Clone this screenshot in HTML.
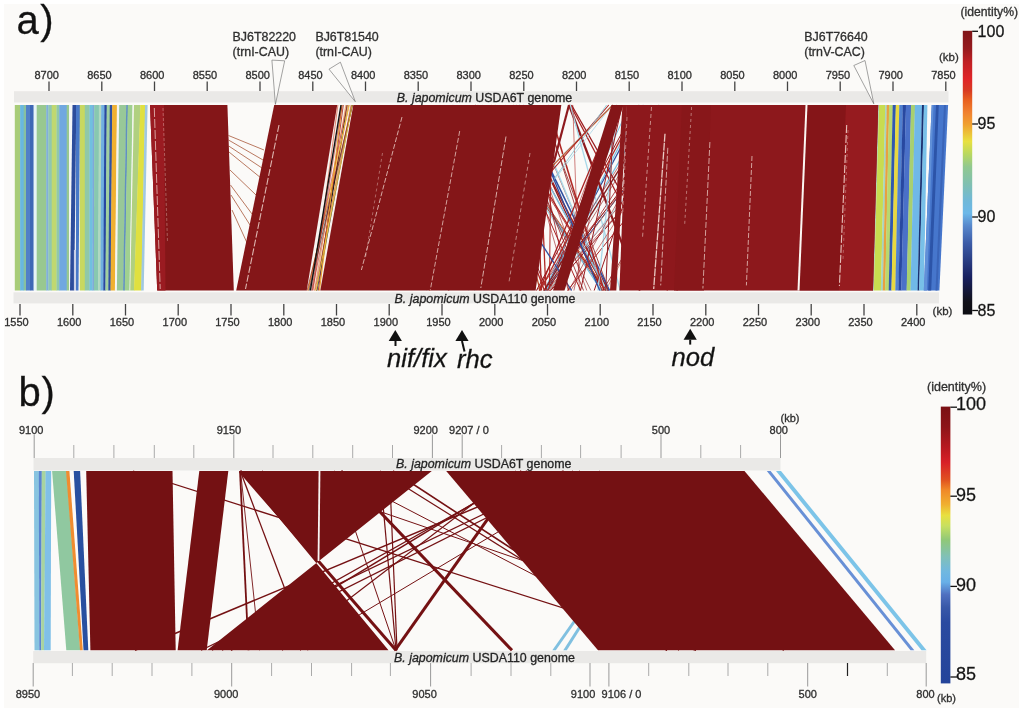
<!DOCTYPE html>
<html><head><meta charset="utf-8"><style>
html,body{margin:0;padding:0;background:#fff;}
svg{display:block;font-family:"Liberation Sans",Arial,sans-serif;}
text{stroke:#2a2a2a;stroke-width:0.3px;}
</style></head><body>
<svg width="1024" height="712" viewBox="0 0 1024 712">
<rect x="0" y="0" width="1024" height="712" fill="#fff"/>
<rect x="4" y="4" width="1015" height="704" fill="#fbfaf8"/>
<rect x="14" y="91.2" width="934.5" height="11.3" fill="#eae9e7"/>
<rect x="13.5" y="292.3" width="925.5" height="11.1" fill="#eae9e7"/>
<line x1="49.0" y1="81.5" x2="49.0" y2="91.0" stroke="#444" stroke-width="1.30"/>
<text x="46.7" y="79.0" font-size="11.0" text-anchor="middle" fill="#333">8700</text>
<line x1="101.8" y1="81.5" x2="101.8" y2="91.0" stroke="#444" stroke-width="1.30"/>
<text x="99.5" y="79.0" font-size="11.0" text-anchor="middle" fill="#333">8650</text>
<line x1="154.5" y1="81.5" x2="154.5" y2="91.0" stroke="#444" stroke-width="1.30"/>
<text x="152.2" y="79.0" font-size="11.0" text-anchor="middle" fill="#333">8600</text>
<line x1="207.2" y1="81.5" x2="207.2" y2="91.0" stroke="#444" stroke-width="1.30"/>
<text x="204.9" y="79.0" font-size="11.0" text-anchor="middle" fill="#333">8550</text>
<line x1="260.0" y1="81.5" x2="260.0" y2="91.0" stroke="#444" stroke-width="1.30"/>
<text x="257.7" y="79.0" font-size="11.0" text-anchor="middle" fill="#333">8500</text>
<line x1="312.8" y1="81.5" x2="312.8" y2="91.0" stroke="#444" stroke-width="1.30"/>
<text x="310.4" y="79.0" font-size="11.0" text-anchor="middle" fill="#333">8450</text>
<line x1="365.5" y1="81.5" x2="365.5" y2="91.0" stroke="#444" stroke-width="1.30"/>
<text x="363.2" y="79.0" font-size="11.0" text-anchor="middle" fill="#333">8400</text>
<line x1="418.2" y1="81.5" x2="418.2" y2="91.0" stroke="#444" stroke-width="1.30"/>
<text x="415.9" y="79.0" font-size="11.0" text-anchor="middle" fill="#333">8350</text>
<line x1="471.0" y1="81.5" x2="471.0" y2="91.0" stroke="#444" stroke-width="1.30"/>
<text x="468.7" y="79.0" font-size="11.0" text-anchor="middle" fill="#333">8300</text>
<line x1="523.8" y1="81.5" x2="523.8" y2="91.0" stroke="#444" stroke-width="1.30"/>
<text x="521.5" y="79.0" font-size="11.0" text-anchor="middle" fill="#333">8250</text>
<line x1="576.5" y1="81.5" x2="576.5" y2="91.0" stroke="#444" stroke-width="1.30"/>
<text x="574.2" y="79.0" font-size="11.0" text-anchor="middle" fill="#333">8200</text>
<line x1="629.2" y1="81.5" x2="629.2" y2="91.0" stroke="#444" stroke-width="1.30"/>
<text x="627.0" y="79.0" font-size="11.0" text-anchor="middle" fill="#333">8150</text>
<line x1="682.0" y1="81.5" x2="682.0" y2="91.0" stroke="#444" stroke-width="1.30"/>
<text x="679.7" y="79.0" font-size="11.0" text-anchor="middle" fill="#333">8100</text>
<line x1="734.8" y1="81.5" x2="734.8" y2="91.0" stroke="#444" stroke-width="1.30"/>
<text x="732.5" y="79.0" font-size="11.0" text-anchor="middle" fill="#333">8050</text>
<line x1="787.5" y1="81.5" x2="787.5" y2="91.0" stroke="#444" stroke-width="1.30"/>
<text x="785.2" y="79.0" font-size="11.0" text-anchor="middle" fill="#333">8000</text>
<line x1="840.2" y1="81.5" x2="840.2" y2="91.0" stroke="#444" stroke-width="1.30"/>
<text x="838.0" y="79.0" font-size="11.0" text-anchor="middle" fill="#333">7950</text>
<line x1="893.0" y1="81.5" x2="893.0" y2="91.0" stroke="#444" stroke-width="1.30"/>
<text x="890.7" y="79.0" font-size="11.0" text-anchor="middle" fill="#333">7900</text>
<line x1="945.8" y1="81.5" x2="945.8" y2="91.0" stroke="#444" stroke-width="1.30"/>
<text x="943.5" y="79.0" font-size="11.0" text-anchor="middle" fill="#333">7850</text>
<text x="939.0" y="61.3" font-size="11.5" text-anchor="start" fill="#333">(kb)</text>
<line x1="20.0" y1="304.0" x2="20.0" y2="315.5" stroke="#444" stroke-width="1.30"/>
<text x="16.5" y="325.8" font-size="11.0" text-anchor="middle" fill="#333">1550</text>
<line x1="72.8" y1="304.0" x2="72.8" y2="315.5" stroke="#444" stroke-width="1.30"/>
<text x="69.2" y="325.8" font-size="11.0" text-anchor="middle" fill="#333">1600</text>
<line x1="125.5" y1="304.0" x2="125.5" y2="315.5" stroke="#444" stroke-width="1.30"/>
<text x="122.0" y="325.8" font-size="11.0" text-anchor="middle" fill="#333">1650</text>
<line x1="178.2" y1="304.0" x2="178.2" y2="315.5" stroke="#444" stroke-width="1.30"/>
<text x="174.8" y="325.8" font-size="11.0" text-anchor="middle" fill="#333">1700</text>
<line x1="231.0" y1="304.0" x2="231.0" y2="315.5" stroke="#444" stroke-width="1.30"/>
<text x="227.5" y="325.8" font-size="11.0" text-anchor="middle" fill="#333">1750</text>
<line x1="283.8" y1="304.0" x2="283.8" y2="315.5" stroke="#444" stroke-width="1.30"/>
<text x="280.2" y="325.8" font-size="11.0" text-anchor="middle" fill="#333">1800</text>
<line x1="336.5" y1="304.0" x2="336.5" y2="315.5" stroke="#444" stroke-width="1.30"/>
<text x="333.0" y="325.8" font-size="11.0" text-anchor="middle" fill="#333">1850</text>
<line x1="389.2" y1="304.0" x2="389.2" y2="315.5" stroke="#444" stroke-width="1.30"/>
<text x="385.8" y="325.8" font-size="11.0" text-anchor="middle" fill="#333">1900</text>
<line x1="442.0" y1="304.0" x2="442.0" y2="315.5" stroke="#444" stroke-width="1.30"/>
<text x="438.5" y="325.8" font-size="11.0" text-anchor="middle" fill="#333">1950</text>
<line x1="494.8" y1="304.0" x2="494.8" y2="315.5" stroke="#444" stroke-width="1.30"/>
<text x="491.2" y="325.8" font-size="11.0" text-anchor="middle" fill="#333">2000</text>
<line x1="547.5" y1="304.0" x2="547.5" y2="315.5" stroke="#444" stroke-width="1.30"/>
<text x="544.0" y="325.8" font-size="11.0" text-anchor="middle" fill="#333">2050</text>
<line x1="600.2" y1="304.0" x2="600.2" y2="315.5" stroke="#444" stroke-width="1.30"/>
<text x="596.8" y="325.8" font-size="11.0" text-anchor="middle" fill="#333">2100</text>
<line x1="653.0" y1="304.0" x2="653.0" y2="315.5" stroke="#444" stroke-width="1.30"/>
<text x="649.5" y="325.8" font-size="11.0" text-anchor="middle" fill="#333">2150</text>
<line x1="705.8" y1="304.0" x2="705.8" y2="315.5" stroke="#444" stroke-width="1.30"/>
<text x="702.2" y="325.8" font-size="11.0" text-anchor="middle" fill="#333">2200</text>
<line x1="758.5" y1="304.0" x2="758.5" y2="315.5" stroke="#444" stroke-width="1.30"/>
<text x="755.0" y="325.8" font-size="11.0" text-anchor="middle" fill="#333">2250</text>
<line x1="811.2" y1="304.0" x2="811.2" y2="315.5" stroke="#444" stroke-width="1.30"/>
<text x="807.8" y="325.8" font-size="11.0" text-anchor="middle" fill="#333">2300</text>
<line x1="864.0" y1="304.0" x2="864.0" y2="315.5" stroke="#444" stroke-width="1.30"/>
<text x="860.5" y="325.8" font-size="11.0" text-anchor="middle" fill="#333">2350</text>
<line x1="916.8" y1="304.0" x2="916.8" y2="315.5" stroke="#444" stroke-width="1.30"/>
<text x="913.2" y="325.8" font-size="11.0" text-anchor="middle" fill="#333">2400</text>
<text x="932.6" y="315.3" font-size="11.5" text-anchor="start" fill="#333">(kb)</text>
<polygon points="14.8,105.0 20.4,105.0 20.4,290.5 14.8,290.5" fill="#a8cc78"/>
<polygon points="20.1,105.0 24.0,105.0 24.0,290.5 20.1,290.5" fill="#68b8e0"/>
<polygon points="23.7,105.0 26.3,105.0 26.3,290.5 23.7,290.5" fill="#88c0a0"/>
<polygon points="26.0,105.0 30.3,105.0 30.3,290.5 26.0,290.5" fill="#5080c8"/>
<polygon points="30.0,105.0 33.9,105.0 33.9,290.5 30.0,290.5" fill="#3d66b5"/>
<polygon points="33.6,105.0 37.0,105.0 37.0,290.5 33.6,290.5" fill="#e6f2f6"/>
<polygon points="36.7,105.0 46.5,105.0 46.5,290.5 36.7,290.5" fill="#98c890"/>
<polygon points="46.2,105.0 48.6,105.0 48.6,290.5 46.2,290.5" fill="#80b0d8"/>
<polygon points="48.3,105.0 52.0,105.0 52.0,290.5 48.3,290.5" fill="#90c8b0"/>
<polygon points="51.7,105.0 56.8,105.0 56.8,290.5 51.7,290.5" fill="#c0d870"/>
<polygon points="56.5,105.0 59.5,105.0 59.5,290.5 56.5,290.5" fill="#90c8a8"/>
<polygon points="59.2,105.0 67.0,105.0 67.0,290.5 59.2,290.5" fill="#70a8e0"/>
<polygon points="66.7,105.0 69.4,105.0 69.4,290.5 66.7,290.5" fill="#98c890"/>
<polygon points="69.1,105.0 72.8,105.0 70.3,290.5 69.1,290.5" fill="#f4f6f8"/>
<polygon points="72.5,105.0 76.3,105.0 74.2,290.5 70.0,290.5" fill="#2c4c9c"/>
<polygon points="76.0,105.0 80.1,105.0 78.5,290.5 75.9,290.5" fill="#4878c8"/>
<polygon points="79.8,105.0 85.1,105.0 85.1,290.5 79.8,290.5" fill="#c8d860"/>
<polygon points="84.8,105.0 89.8,105.0 89.8,290.5 84.8,290.5" fill="#90c8a8"/>
<polygon points="89.5,105.0 93.0,105.0 92.8,290.5 89.5,290.5" fill="#70c0e0"/>
<polygon points="92.7,105.0 94.5,105.0 94.2,290.5 92.5,290.5" fill="#80a8d8"/>
<polygon points="94.2,105.0 99.2,105.0 98.5,290.5 93.9,290.5" fill="#88c8b0"/>
<polygon points="98.9,105.0 101.5,105.0 100.7,290.5 98.2,290.5" fill="#b0d8c0"/>
<polygon points="101.2,105.0 104.7,105.0 103.6,290.5 100.4,290.5" fill="#70b0e0"/>
<polygon points="104.4,105.0 107.0,105.0 105.7,290.5 103.3,290.5" fill="#2848a0"/>
<polygon points="106.7,105.0 110.1,105.0 108.6,290.5 105.4,290.5" fill="#a0d0a0"/>
<polygon points="109.8,105.0 112.5,105.0 110.8,290.5 108.3,290.5" fill="#3050a0"/>
<polygon points="112.2,105.0 117.2,105.0 115.2,290.5 110.5,290.5" fill="#f0b030"/>
<polygon points="116.9,105.0 119.5,105.0 117.3,290.5 114.9,290.5" fill="#f4f4f0"/>
<polygon points="119.2,105.0 126.5,105.0 123.4,290.5 116.9,290.5" fill="#98c898"/>
<polygon points="126.2,105.0 128.1,105.0 125.0,290.5 123.1,290.5" fill="#6090c0"/>
<polygon points="127.8,105.0 132.8,105.0 129.8,290.5 124.7,290.5" fill="#a0d090"/>
<polygon points="132.5,105.0 134.3,105.0 130.5,290.5 129.5,290.5" fill="#f6f6f2"/>
<polygon points="134.0,105.0 140.6,105.0 134.3,290.5 130.2,290.5" fill="#b0d080"/>
<polygon points="140.3,105.0 145.3,105.0 141.4,290.5 134.0,290.5" fill="#e0e040"/>
<polygon points="145.0,105.0 147.6,105.0 143.7,290.5 141.1,290.5" fill="#a0c8e0"/>
<polygon points="73.9,250.0 75.9,250.0 75.9,290.5 73.9,290.5" fill="#c8d0e8"/>
<polygon points="877.4,105.0 879.3,105.0 874.1,290.5 872.3,290.5" fill="#b0d4c8"/>
<polygon points="879.0,105.0 885.4,105.0 881.0,290.5 873.8,290.5" fill="#c8dc50"/>
<polygon points="885.2,105.0 887.0,105.0 883.0,290.5 880.8,290.5" fill="#a8d4c0"/>
<polygon points="886.8,105.0 889.3,105.0 885.3,290.5 882.8,290.5" fill="#e8a040"/>
<polygon points="889.1,105.0 892.9,105.0 888.9,290.5 885.1,290.5" fill="#b8d870"/>
<polygon points="892.7,105.0 896.0,105.0 891.6,290.5 888.7,290.5" fill="#3058b0"/>
<polygon points="895.8,105.0 899.5,105.0 895.5,290.5 891.4,290.5" fill="#e8d840"/>
<polygon points="899.3,105.0 903.0,105.0 898.6,290.5 895.3,290.5" fill="#5080d0"/>
<polygon points="902.8,105.0 906.1,105.0 901.4,290.5 898.4,290.5" fill="#2848a0"/>
<polygon points="905.9,105.0 911.2,105.0 906.8,290.5 901.2,290.5" fill="#4a70c8"/>
<polygon points="911.0,105.0 915.1,105.0 910.7,290.5 906.6,290.5" fill="#a8d070"/>
<polygon points="914.9,105.0 922.2,105.0 917.8,290.5 910.5,290.5" fill="#70b8e8"/>
<polygon points="922.0,105.0 924.1,105.0 919.3,290.5 917.6,290.5" fill="#1a3070"/>
<polygon points="923.9,105.0 927.4,105.0 923.9,290.5 919.1,290.5" fill="#78c0e8"/>
<polygon points="931.7,105.0 948.1,105.0 939.4,290.5 923.8,290.5" fill="#4676cc"/>
<polygon points="936.0,105.0 938.8,105.0 931.2,290.5 928.2,290.5" fill="#2c54a8"/>
<polygon points="931.7,105.0 933.5,105.0 926.9,290.5 923.8,290.5" fill="#6090d8"/>
<polygon points="944.0,105.0 946.0,105.0 937.5,290.5 935.5,290.5" fill="#3a64b8"/>
<line x1="228.5" y1="135.5" x2="264.0" y2="150.0" stroke="#a8583a" stroke-width="0.80"/>
<line x1="228.5" y1="140.0" x2="263.0" y2="160.0" stroke="#a8583a" stroke-width="0.80"/>
<line x1="228.7" y1="146.0" x2="262.0" y2="168.0" stroke="#a8583a" stroke-width="0.80"/>
<line x1="229.0" y1="152.0" x2="261.0" y2="178.0" stroke="#a8583a" stroke-width="0.80"/>
<line x1="230.0" y1="170.0" x2="256.0" y2="195.0" stroke="#a8583a" stroke-width="0.80"/>
<line x1="230.5" y1="185.0" x2="255.0" y2="218.0" stroke="#a8583a" stroke-width="0.80"/>
<line x1="231.0" y1="195.0" x2="250.0" y2="225.0" stroke="#a8583a" stroke-width="0.80"/>
<line x1="232.0" y1="210.0" x2="248.0" y2="245.0" stroke="#a8583a" stroke-width="0.80"/>
<line x1="475.2" y1="105.0" x2="605.4" y2="290.5" stroke="#a82222" stroke-width="1.30"/>
<line x1="516.3" y1="105.0" x2="601.5" y2="290.5" stroke="#8e1a1e" stroke-width="1.30"/>
<line x1="477.5" y1="105.0" x2="602.9" y2="290.5" stroke="#b84a2a" stroke-width="1.30"/>
<line x1="507.3" y1="105.0" x2="605.4" y2="290.5" stroke="#a82222" stroke-width="0.80"/>
<line x1="474.6" y1="105.0" x2="602.2" y2="290.5" stroke="#a8d8e8" stroke-width="1.30"/>
<line x1="528.6" y1="105.0" x2="606.4" y2="290.5" stroke="#8e1a1e" stroke-width="0.60"/>
<line x1="481.9" y1="105.0" x2="601.2" y2="290.5" stroke="#7cc0e0" stroke-width="1.30"/>
<line x1="513.0" y1="105.0" x2="608.4" y2="290.5" stroke="#a82222" stroke-width="1.30"/>
<line x1="491.9" y1="105.0" x2="607.4" y2="290.5" stroke="#a82222" stroke-width="0.80"/>
<line x1="543.2" y1="105.0" x2="601.8" y2="290.5" stroke="#8e1a1e" stroke-width="0.80"/>
<line x1="477.3" y1="105.0" x2="606.4" y2="290.5" stroke="#c05a30" stroke-width="1.00"/>
<line x1="494.6" y1="105.0" x2="607.7" y2="290.5" stroke="#b02a26" stroke-width="1.30"/>
<line x1="511.9" y1="105.0" x2="608.2" y2="290.5" stroke="#8a1818" stroke-width="0.60"/>
<line x1="540.8" y1="105.0" x2="608.9" y2="290.5" stroke="#8a1818" stroke-width="0.80"/>
<line x1="519.0" y1="105.0" x2="609.5" y2="290.5" stroke="#2f4fa0" stroke-width="1.60"/>
<line x1="505.0" y1="105.0" x2="607.0" y2="290.5" stroke="#7cc0e0" stroke-width="1.40"/>
<line x1="530.0" y1="105.0" x2="606.0" y2="290.5" stroke="#a8d8e8" stroke-width="1.40"/>
<line x1="548.0" y1="105.0" x2="604.0" y2="290.5" stroke="#b02a26" stroke-width="1.60"/>
<line x1="687.8" y1="105.0" x2="546.3" y2="290.5" stroke="#b02a26" stroke-width="0.60"/>
<line x1="689.4" y1="105.0" x2="545.5" y2="290.5" stroke="#2f4fa0" stroke-width="1.00"/>
<line x1="643.5" y1="105.0" x2="544.4" y2="290.5" stroke="#2f4fa0" stroke-width="1.30"/>
<line x1="622.5" y1="105.0" x2="549.6" y2="290.5" stroke="#a82222" stroke-width="0.80"/>
<line x1="615.2" y1="105.0" x2="547.0" y2="290.5" stroke="#a82222" stroke-width="0.60"/>
<line x1="617.7" y1="105.0" x2="548.3" y2="290.5" stroke="#8e1a1e" stroke-width="1.00"/>
<line x1="671.9" y1="105.0" x2="550.5" y2="290.5" stroke="#9a1a1e" stroke-width="0.80"/>
<line x1="719.8" y1="105.0" x2="546.2" y2="290.5" stroke="#8e1a1e" stroke-width="0.60"/>
<line x1="714.5" y1="105.0" x2="550.8" y2="290.5" stroke="#9a1a1e" stroke-width="1.00"/>
<line x1="629.7" y1="105.0" x2="544.3" y2="290.5" stroke="#7cc0e0" stroke-width="1.00"/>
<line x1="651.5" y1="105.0" x2="545.0" y2="290.5" stroke="#7cc0e0" stroke-width="1.30"/>
<line x1="662.3" y1="105.0" x2="547.6" y2="290.5" stroke="#8a1818" stroke-width="0.60"/>
<line x1="640.0" y1="105.0" x2="546.0" y2="290.5" stroke="#7cc0e0" stroke-width="1.20"/>
<line x1="660.0" y1="105.0" x2="544.0" y2="290.5" stroke="#a8d8e8" stroke-width="1.20"/>
<line x1="569.0" y1="105.0" x2="520.0" y2="290.5" stroke="#8e1a1e" stroke-width="2.20"/>
<line x1="569.0" y1="105.0" x2="640.0" y2="290.5" stroke="#8e1a1e" stroke-width="2.20"/>
<line x1="570.3" y1="105.0" x2="667.5" y2="290.5" stroke="#a82222" stroke-width="1.30"/>
<line x1="570.4" y1="105.0" x2="620.3" y2="290.5" stroke="#a8d8e8" stroke-width="1.30"/>
<line x1="572.8" y1="105.0" x2="579.4" y2="290.5" stroke="#b02a26" stroke-width="0.60"/>
<line x1="571.5" y1="105.0" x2="677.4" y2="290.5" stroke="#9a1a1e" stroke-width="1.30"/>
<line x1="612.2" y1="105.0" x2="468.5" y2="290.5" stroke="#9cd0e4" stroke-width="0.70"/>
<line x1="612.3" y1="105.0" x2="426.5" y2="290.5" stroke="#b8dcea" stroke-width="0.90"/>
<line x1="612.8" y1="105.0" x2="429.4" y2="290.5" stroke="#c05a30" stroke-width="1.10"/>
<line x1="608.8" y1="105.0" x2="448.5" y2="290.5" stroke="#a82222" stroke-width="1.10"/>
<line x1="606.6" y1="105.0" x2="474.6" y2="290.5" stroke="#8ecad8" stroke-width="0.90"/>
<line x1="498.4" y1="105.0" x2="580.7" y2="290.5" stroke="#a82222" stroke-width="1.00"/>
<line x1="703.3" y1="105.0" x2="548.6" y2="290.5" stroke="#8e1a1e" stroke-width="0.60"/>
<line x1="686.2" y1="105.0" x2="544.0" y2="290.5" stroke="#8a1818" stroke-width="1.00"/>
<line x1="469.9" y1="105.0" x2="547.2" y2="290.5" stroke="#8e1a1e" stroke-width="1.00"/>
<line x1="685.2" y1="105.0" x2="549.0" y2="290.5" stroke="#b84a2a" stroke-width="0.60"/>
<line x1="518.9" y1="105.0" x2="586.8" y2="290.5" stroke="#9a1a1e" stroke-width="0.60"/>
<line x1="551.5" y1="105.0" x2="549.4" y2="290.5" stroke="#b02a26" stroke-width="1.00"/>
<line x1="537.8" y1="105.0" x2="545.9" y2="290.5" stroke="#b02a26" stroke-width="1.30"/>
<line x1="534.1" y1="105.0" x2="541.5" y2="290.5" stroke="#a82222" stroke-width="1.30"/>
<line x1="616.8" y1="105.0" x2="539.2" y2="290.5" stroke="#a82222" stroke-width="1.30"/>
<line x1="718.5" y1="105.0" x2="567.5" y2="290.5" stroke="#a82222" stroke-width="1.00"/>
<line x1="708.2" y1="105.0" x2="605.5" y2="290.5" stroke="#b84a2a" stroke-width="0.60"/>
<line x1="617.8" y1="105.0" x2="597.9" y2="290.5" stroke="#a8d8e8" stroke-width="1.30"/>
<line x1="614.4" y1="105.0" x2="573.9" y2="290.5" stroke="#9a1a1e" stroke-width="0.60"/>
<line x1="657.3" y1="105.0" x2="594.2" y2="290.5" stroke="#9a1a1e" stroke-width="1.00"/>
<line x1="670.9" y1="105.0" x2="568.8" y2="290.5" stroke="#9a1a1e" stroke-width="0.60"/>
<line x1="700.4" y1="105.0" x2="548.7" y2="290.5" stroke="#a8d8e8" stroke-width="0.80"/>
<line x1="613.8" y1="105.0" x2="605.7" y2="290.5" stroke="#8e1a1e" stroke-width="1.00"/>
<line x1="515.5" y1="105.0" x2="568.3" y2="290.5" stroke="#9a1a1e" stroke-width="0.60"/>
<line x1="696.0" y1="105.0" x2="536.8" y2="290.5" stroke="#a82222" stroke-width="0.60"/>
<line x1="622.2" y1="105.0" x2="580.5" y2="290.5" stroke="#9a1a1e" stroke-width="1.00"/>
<line x1="491.3" y1="105.0" x2="540.2" y2="290.5" stroke="#b84a2a" stroke-width="1.30"/>
<line x1="508.9" y1="105.0" x2="583.5" y2="290.5" stroke="#8e1a1e" stroke-width="0.80"/>
<line x1="498.8" y1="105.0" x2="590.9" y2="290.5" stroke="#8a1818" stroke-width="0.60"/>
<line x1="659.2" y1="105.0" x2="543.9" y2="290.5" stroke="#8a1818" stroke-width="1.30"/>
<line x1="657.8" y1="105.0" x2="539.5" y2="290.5" stroke="#9a1a1e" stroke-width="0.60"/>
<line x1="637.0" y1="105.0" x2="536.4" y2="290.5" stroke="#9a1a1e" stroke-width="1.00"/>
<line x1="523.2" y1="105.0" x2="599.7" y2="290.5" stroke="#2f4fa0" stroke-width="1.30"/>
<line x1="691.5" y1="105.0" x2="570.7" y2="290.5" stroke="#b02a26" stroke-width="0.60"/>
<line x1="475.0" y1="105.0" x2="544.4" y2="290.5" stroke="#b02a26" stroke-width="1.30"/>
<line x1="452.5" y1="105.0" x2="571.6" y2="290.5" stroke="#2f4fa0" stroke-width="1.30"/>
<line x1="714.9" y1="105.0" x2="602.7" y2="290.5" stroke="#8e1a1e" stroke-width="0.80"/>
<line x1="529.4" y1="105.0" x2="568.8" y2="290.5" stroke="#9a1a1e" stroke-width="0.80"/>
<line x1="638.9" y1="105.0" x2="540.0" y2="290.5" stroke="#b02a26" stroke-width="1.30"/>
<polygon points="337.0,105.0 353.5,105.0 320.5,290.5 306.5,290.5" fill="#f8f3ef"/>
<line x1="347.2" y1="105.0" x2="316.6" y2="290.5" stroke="#111111" stroke-width="1.00"/>
<line x1="352.1" y1="105.0" x2="316.6" y2="290.5" stroke="#e8a030" stroke-width="1.00"/>
<line x1="337.9" y1="105.0" x2="313.1" y2="290.5" stroke="#d04020" stroke-width="0.60"/>
<line x1="347.6" y1="105.0" x2="318.7" y2="290.5" stroke="#f0d040" stroke-width="0.60"/>
<line x1="343.3" y1="105.0" x2="318.3" y2="290.5" stroke="#a01818" stroke-width="0.80"/>
<line x1="345.9" y1="105.0" x2="314.5" y2="290.5" stroke="#e07020" stroke-width="0.60"/>
<line x1="348.8" y1="105.0" x2="312.3" y2="290.5" stroke="#b02020" stroke-width="0.60"/>
<line x1="351.7" y1="105.0" x2="317.0" y2="290.5" stroke="#1a2a6a" stroke-width="0.60"/>
<line x1="349.3" y1="105.0" x2="307.9" y2="290.5" stroke="#f0c040" stroke-width="1.00"/>
<line x1="347.1" y1="105.0" x2="308.6" y2="290.5" stroke="#c83028" stroke-width="0.60"/>
<line x1="352.6" y1="105.0" x2="307.1" y2="290.5" stroke="#8a1010" stroke-width="0.60"/>
<line x1="352.4" y1="105.0" x2="309.2" y2="290.5" stroke="#111111" stroke-width="0.60"/>
<line x1="342.0" y1="105.0" x2="319.5" y2="290.5" stroke="#e8a030" stroke-width="1.00"/>
<line x1="351.1" y1="105.0" x2="315.1" y2="290.5" stroke="#d04020" stroke-width="0.60"/>
<line x1="352.1" y1="105.0" x2="316.0" y2="290.5" stroke="#f0d040" stroke-width="0.80"/>
<line x1="342.1" y1="105.0" x2="311.7" y2="290.5" stroke="#a01818" stroke-width="0.60"/>
<line x1="341.0" y1="105.0" x2="310.4" y2="290.5" stroke="#111" stroke-width="1.40"/>
<polygon points="150.0,105.0 227.4,105.0 233.8,290.5 157.2,290.5" fill="#841618"/>
<polygon points="150.0,105.0 164.0,105.0 165.5,290.5 157.2,290.5" fill="#9a1b21"/>
<polygon points="274.2,105.0 337.2,105.0 306.7,290.5 236.2,290.5" fill="#841618"/>
<polygon points="353.3,105.0 561.3,105.0 535.6,290.5 320.3,290.5" fill="#841618"/>
<polygon points="611.5,105.0 623.5,105.0 564.5,290.5 553.0,290.5" fill="#841618"/>
<polygon points="622.5,105.0 627.0,105.0 616.3,290.5 610.0,290.5" fill="#8c191c"/>
<polygon points="626.5,105.0 878.2,105.0 873.0,290.5 619.4,290.5" fill="#8d181c"/>
<polygon points="807.5,105.0 846.0,105.0 839.0,290.5 799.5,290.5" fill="#851518"/>
<polygon points="846.0,105.0 878.2,105.0 873.0,290.5 839.0,290.5" fill="#961b1f"/>
<polygon points="682.0,105.0 711.0,105.0 704.0,290.5 674.0,290.5" fill="#88171a"/>
<polygon points="805.5,105.0 807.5,105.0 799.5,290.5 797.5,290.5" fill="#fbf6f2"/>
<line x1="402.0" y1="117.0" x2="361.4" y2="270.0" stroke="#f3dcd4" stroke-width="1.00" stroke-dasharray="5 2" opacity="0.75"/>
<line x1="459.7" y1="131.0" x2="430.2" y2="290.5" stroke="#f3dcd4" stroke-width="1.00" stroke-dasharray="5 2" opacity="0.70"/>
<line x1="506.0" y1="136.5" x2="480.8" y2="288.0" stroke="#f3dcd4" stroke-width="1.00" stroke-dasharray="6 2" opacity="0.75"/>
<line x1="530.0" y1="153.0" x2="508.9" y2="282.6" stroke="#f3dcd4" stroke-width="0.90" stroke-dasharray="4 3" opacity="0.60"/>
<line x1="382.5" y1="153.0" x2="365.6" y2="257.0" stroke="#f3dcd4" stroke-width="0.80" stroke-dasharray="3 3" opacity="0.50"/>
<line x1="651.5" y1="107.0" x2="642.5" y2="238.0" stroke="#f3dcd4" stroke-width="0.90" stroke-dasharray="4 3" opacity="0.65"/>
<line x1="665.0" y1="133.7" x2="653.7" y2="289.0" stroke="#f3dcd4" stroke-width="1.30" stroke-dasharray="8 1" opacity="0.90"/>
<line x1="667.8" y1="147.8" x2="660.7" y2="285.4" stroke="#f3dcd4" stroke-width="1.00" stroke-dasharray="6 2" opacity="0.70"/>
<line x1="691.6" y1="107.0" x2="684.6" y2="226.0" stroke="#f3dcd4" stroke-width="0.80" stroke-dasharray="3 3" opacity="0.60"/>
<line x1="709.9" y1="142.0" x2="702.9" y2="288.5" stroke="#f3dcd4" stroke-width="1.00" stroke-dasharray="6 2" opacity="0.70"/>
<line x1="752.0" y1="156.0" x2="746.4" y2="285.4" stroke="#f3dcd4" stroke-width="1.00" stroke-dasharray="5 2" opacity="0.70"/>
<line x1="627.0" y1="117.0" x2="622.8" y2="212.0" stroke="#f3dcd4" stroke-width="0.80" stroke-dasharray="4 3" opacity="0.60"/>
<line x1="846.7" y1="125.0" x2="839.4" y2="286.0" stroke="#f3dcd4" stroke-width="1.10" stroke-dasharray="8 2" opacity="0.85"/>
<line x1="848.0" y1="130.0" x2="843.0" y2="260.0" stroke="#f3dcd4" stroke-width="0.70" stroke-dasharray="3 3" opacity="0.50"/>
<line x1="154.3" y1="108.0" x2="160.2" y2="289.0" stroke="#f3dcd4" stroke-width="1.00" stroke-dasharray="9 2" opacity="0.70"/>
<line x1="279.0" y1="125.0" x2="245.5" y2="289.0" stroke="#f3dcd4" stroke-width="1.10" stroke-dasharray="7 2" opacity="0.80"/>
<line x1="163.0" y1="108.0" x2="167.5" y2="242.0" stroke="#f3dcd4" stroke-width="0.70" stroke-dasharray="3 2" opacity="0.50"/>
<text x="232.6" y="40.8" font-size="12.4" text-anchor="start" fill="#333">BJ6T82220</text>
<text x="232.6" y="55.5" font-size="12.4" text-anchor="start" fill="#333">(trnI-CAU)</text>
<text x="315.4" y="40.8" font-size="12.4" text-anchor="start" fill="#333">BJ6T81540</text>
<text x="315.4" y="55.5" font-size="12.4" text-anchor="start" fill="#333">(trnI-CAU)</text>
<text x="804.3" y="40.8" font-size="12.4" text-anchor="start" fill="#333">BJ6T76640</text>
<text x="804.3" y="55.5" font-size="12.4" text-anchor="start" fill="#333">(trnV-CAC)</text>
<polygon points="271.9,60.1 284.7,60.8 275.4,104.4" fill="#fbfaf8" stroke="#666" stroke-width="0.6"/>
<polygon points="329.0,69.2 340.4,62.2 355.3,101.7" fill="#fbfaf8" stroke="#666" stroke-width="0.6"/>
<polygon points="853.8,65.5 865.0,60.5 873.8,103.8" fill="#fbfaf8" stroke="#666" stroke-width="0.6"/>
<text x="396.8" y="102.1" font-size="12.4" fill="#222"><tspan font-style="italic">B. japomicum</tspan> USDA6T genome</text>
<text x="394.6" y="303" font-size="12.4" fill="#222"><tspan font-style="italic">B. japomicum</tspan> USDA110 genome</text>
<polygon points="395.3,330.0 388.7,341.0 401.9,341.0" fill="#111"/>
<line x1="395.5" y1="341.0" x2="395.5" y2="346.0" stroke="#111" stroke-width="2.00"/>
<polygon points="462.0,330.0 455.4,341.0 468.6,341.0" fill="#111"/>
<line x1="462.0" y1="341.0" x2="464.5" y2="351.5" stroke="#111" stroke-width="2.00"/>
<polygon points="690.2,328.8 683.6,339.8 696.8,339.8" fill="#111"/>
<line x1="690.2" y1="339.7" x2="690.2" y2="344.6" stroke="#111" stroke-width="2.00"/>
<text x="387" y="366.9" font-size="25.6" font-style="italic" fill="#111">nif/fix</text>
<text x="457" y="368.3" font-size="25.6" font-style="italic" fill="#111">rhc</text>
<text x="671.5" y="365.7" font-size="25.6" font-style="italic" fill="#111">nod</text>
<text x="16.5" y="34.0" font-size="40.0" text-anchor="start" fill="#111">a<tspan dx="1.6">)</tspan></text>
<text x="18.5" y="406.2" font-size="40.0" text-anchor="start" fill="#111">b<tspan dx="0.8">)</tspan></text>
<defs><linearGradient id="ga" x1="0" y1="0" x2="0" y2="1"><stop offset="0.000" stop-color="#801418"/><stop offset="0.062" stop-color="#951a1e"/><stop offset="0.110" stop-color="#c02024"/><stop offset="0.170" stop-color="#e02428"/><stop offset="0.210" stop-color="#d83a22"/><stop offset="0.245" stop-color="#e86020"/><stop offset="0.287" stop-color="#f08030"/><stop offset="0.330" stop-color="#f0a030"/><stop offset="0.390" stop-color="#e8e040"/><stop offset="0.435" stop-color="#b8d860"/><stop offset="0.480" stop-color="#90c890"/><stop offset="0.539" stop-color="#80c0b0"/><stop offset="0.599" stop-color="#70b8d8"/><stop offset="0.643" stop-color="#6cb8e8"/><stop offset="0.687" stop-color="#5888cc"/><stop offset="0.748" stop-color="#3c5ca8"/><stop offset="0.868" stop-color="#182060"/><stop offset="0.956" stop-color="#101018"/><stop offset="1.000" stop-color="#0c0c12"/></linearGradient></defs>
<defs><linearGradient id="gb" x1="0" y1="0" x2="0" y2="1"><stop offset="0.000" stop-color="#7a1014"/><stop offset="0.072" stop-color="#8c1418"/><stop offset="0.149" stop-color="#b81820"/><stop offset="0.202" stop-color="#d82028"/><stop offset="0.263" stop-color="#e05020"/><stop offset="0.301" stop-color="#f08828"/><stop offset="0.354" stop-color="#f0b030"/><stop offset="0.393" stop-color="#e8e040"/><stop offset="0.431" stop-color="#c8e060"/><stop offset="0.482" stop-color="#90c878"/><stop offset="0.543" stop-color="#80c0b8"/><stop offset="0.596" stop-color="#70b8e0"/><stop offset="0.634" stop-color="#68b0e8"/><stop offset="0.679" stop-color="#5070c0"/><stop offset="0.725" stop-color="#3858a8"/><stop offset="0.780" stop-color="#2a4aa0"/><stop offset="1.000" stop-color="#24449a"/></linearGradient></defs>
<rect x="962.8" y="30.8" width="9.4" height="283.7" fill="url(#ga)"/>
<line x1="972.2" y1="31.3" x2="978.0" y2="31.3" stroke="#111" stroke-width="1.30"/>
<text x="977.6" y="36.5" font-size="16.0" text-anchor="start" fill="#111">100</text>
<line x1="972.2" y1="124.0" x2="978.0" y2="124.0" stroke="#111" stroke-width="1.30"/>
<text x="977.6" y="129.2" font-size="16.0" text-anchor="start" fill="#111">95</text>
<line x1="972.2" y1="217.0" x2="978.0" y2="217.0" stroke="#111" stroke-width="1.30"/>
<text x="977.6" y="222.2" font-size="16.0" text-anchor="start" fill="#111">90</text>
<line x1="972.2" y1="310.5" x2="978.0" y2="310.5" stroke="#111" stroke-width="1.30"/>
<text x="977.6" y="315.7" font-size="16.0" text-anchor="start" fill="#111">85</text>
<text x="960.5" y="16.2" font-size="12.2" text-anchor="start" fill="#333">(identity%)</text>
<rect x="33.5" y="458" width="747" height="12.5" fill="#eae9e7"/>
<rect x="33.2" y="651" width="893" height="12.2" fill="#eae9e7"/>
<line x1="34.2" y1="434.5" x2="34.2" y2="458.0" stroke="#999" stroke-width="1.00"/>
<line x1="233.8" y1="434.5" x2="233.8" y2="458.0" stroke="#999" stroke-width="1.00"/>
<line x1="432.4" y1="434.5" x2="432.4" y2="458.0" stroke="#999" stroke-width="1.00"/>
<line x1="462.2" y1="434.5" x2="462.2" y2="458.0" stroke="#999" stroke-width="1.00"/>
<line x1="661.0" y1="434.5" x2="661.0" y2="458.0" stroke="#999" stroke-width="1.00"/>
<line x1="780.5" y1="434.5" x2="780.5" y2="458.0" stroke="#999" stroke-width="1.00"/>
<line x1="73.8" y1="445.0" x2="73.8" y2="458.0" stroke="#aaa" stroke-width="1.00"/>
<line x1="113.9" y1="445.0" x2="113.9" y2="458.0" stroke="#aaa" stroke-width="1.00"/>
<line x1="154.3" y1="445.0" x2="154.3" y2="458.0" stroke="#aaa" stroke-width="1.00"/>
<line x1="193.8" y1="445.0" x2="193.8" y2="458.0" stroke="#aaa" stroke-width="1.00"/>
<line x1="273.0" y1="445.0" x2="273.0" y2="458.0" stroke="#aaa" stroke-width="1.00"/>
<line x1="312.8" y1="445.0" x2="312.8" y2="458.0" stroke="#aaa" stroke-width="1.00"/>
<line x1="352.7" y1="445.0" x2="352.7" y2="458.0" stroke="#aaa" stroke-width="1.00"/>
<line x1="392.5" y1="445.0" x2="392.5" y2="458.0" stroke="#aaa" stroke-width="1.00"/>
<line x1="501.6" y1="445.0" x2="501.6" y2="458.0" stroke="#aaa" stroke-width="1.00"/>
<line x1="541.4" y1="445.0" x2="541.4" y2="458.0" stroke="#aaa" stroke-width="1.00"/>
<line x1="580.6" y1="445.0" x2="580.6" y2="458.0" stroke="#aaa" stroke-width="1.00"/>
<line x1="621.1" y1="445.0" x2="621.1" y2="458.0" stroke="#aaa" stroke-width="1.00"/>
<line x1="700.8" y1="445.0" x2="700.8" y2="458.0" stroke="#aaa" stroke-width="1.00"/>
<line x1="740.6" y1="445.0" x2="740.6" y2="458.0" stroke="#aaa" stroke-width="1.00"/>
<text x="31.2" y="433.9" font-size="11.0" text-anchor="middle" fill="#333">9100</text>
<text x="229.0" y="433.9" font-size="11.0" text-anchor="middle" fill="#333">9150</text>
<text x="425.7" y="433.9" font-size="11.0" text-anchor="middle" fill="#333">9200</text>
<text x="468.9" y="433.9" font-size="11.0" text-anchor="middle" fill="#333">9207 / 0</text>
<text x="661.0" y="433.9" font-size="11.0" text-anchor="middle" fill="#333">500</text>
<text x="778.7" y="433.9" font-size="11.0" text-anchor="middle" fill="#333">800</text>
<text x="780.5" y="422.0" font-size="11.0" text-anchor="start" fill="#333">(kb)</text>
<line x1="33.2" y1="663.0" x2="33.2" y2="686.5" stroke="#999" stroke-width="1.00"/>
<line x1="231.7" y1="663.0" x2="231.7" y2="686.5" stroke="#999" stroke-width="1.00"/>
<line x1="430.6" y1="663.0" x2="430.6" y2="686.5" stroke="#999" stroke-width="1.00"/>
<line x1="590.0" y1="663.0" x2="590.0" y2="686.5" stroke="#999" stroke-width="1.00"/>
<line x1="608.9" y1="663.0" x2="608.9" y2="686.5" stroke="#999" stroke-width="1.00"/>
<line x1="807.7" y1="663.0" x2="807.7" y2="686.5" stroke="#999" stroke-width="1.00"/>
<line x1="926.2" y1="663.0" x2="926.2" y2="686.5" stroke="#999" stroke-width="1.00"/>
<line x1="72.4" y1="663.0" x2="72.4" y2="676.0" stroke="#aaa" stroke-width="1.00"/>
<line x1="112.2" y1="663.0" x2="112.2" y2="676.0" stroke="#aaa" stroke-width="1.00"/>
<line x1="152.0" y1="663.0" x2="152.0" y2="676.0" stroke="#aaa" stroke-width="1.00"/>
<line x1="191.9" y1="663.0" x2="191.9" y2="676.0" stroke="#aaa" stroke-width="1.00"/>
<line x1="271.6" y1="663.0" x2="271.6" y2="676.0" stroke="#aaa" stroke-width="1.00"/>
<line x1="311.5" y1="663.0" x2="311.5" y2="676.0" stroke="#aaa" stroke-width="1.00"/>
<line x1="351.6" y1="663.0" x2="351.6" y2="676.0" stroke="#aaa" stroke-width="1.00"/>
<line x1="390.4" y1="663.0" x2="390.4" y2="676.0" stroke="#aaa" stroke-width="1.00"/>
<line x1="471.1" y1="663.0" x2="471.1" y2="676.0" stroke="#aaa" stroke-width="1.00"/>
<line x1="511.0" y1="663.0" x2="511.0" y2="676.0" stroke="#aaa" stroke-width="1.00"/>
<line x1="550.8" y1="663.0" x2="550.8" y2="676.0" stroke="#aaa" stroke-width="1.00"/>
<line x1="648.7" y1="663.0" x2="648.7" y2="676.0" stroke="#aaa" stroke-width="1.00"/>
<line x1="688.8" y1="663.0" x2="688.8" y2="676.0" stroke="#aaa" stroke-width="1.00"/>
<line x1="728.0" y1="663.0" x2="728.0" y2="676.0" stroke="#aaa" stroke-width="1.00"/>
<line x1="767.8" y1="663.0" x2="767.8" y2="676.0" stroke="#aaa" stroke-width="1.00"/>
<line x1="887.3" y1="663.0" x2="887.3" y2="676.0" stroke="#aaa" stroke-width="1.00"/>
<line x1="847.5" y1="663.0" x2="847.5" y2="676.0" stroke="#222" stroke-width="1.20"/>
<text x="28.0" y="698.0" font-size="11.0" text-anchor="middle" fill="#333">8950</text>
<text x="226.2" y="698.0" font-size="11.0" text-anchor="middle" fill="#333">9000</text>
<text x="424.6" y="698.0" font-size="11.0" text-anchor="middle" fill="#333">9050</text>
<text x="583.1" y="698.0" font-size="11.0" text-anchor="middle" fill="#333">9100</text>
<text x="621.5" y="698.0" font-size="11.0" text-anchor="middle" fill="#333">9106 / 0</text>
<text x="807.8" y="698.0" font-size="11.0" text-anchor="middle" fill="#333">500</text>
<text x="925.5" y="698.0" font-size="11.0" text-anchor="middle" fill="#333">800</text>
<text x="937.0" y="702.3" font-size="11.0" text-anchor="start" fill="#333">(kb)</text>
<polygon points="34.0,471.0 38.9,471.0 39.4,650.3 34.5,650.3" fill="#88c4e0"/>
<polygon points="38.8,471.0 41.9,471.0 41.2,650.3 39.3,650.3" fill="#5a84d0"/>
<polygon points="41.8,471.0 45.8,471.0 44.2,650.3 41.1,650.3" fill="#a8d4a0"/>
<polygon points="45.6,471.0 51.2,471.0 50.7,650.3 44.0,650.3" fill="#80c0e8"/>
<polygon points="52.1,471.0 66.6,471.0 80.2,650.3 66.3,650.3" fill="#90c8a0"/>
<polygon points="66.0,471.0 69.4,471.0 82.8,650.3 80.0,650.3" fill="#f08c30"/>
<polygon points="73.7,471.0 80.1,471.0 88.3,650.3 83.5,650.3" fill="#2850a0"/>
<polygon points="766.8,471.0 770.6,471.0 914.3,650.3 910.5,650.3" fill="#6890d6"/>
<polygon points="776.0,471.0 781.0,471.0 926.5,650.3 921.5,650.3" fill="#7cc4e8"/>
<polygon points="589.0,598.0 592.5,598.0 555.8,650.3 552.3,650.3" fill="#80c0e0"/>
<polygon points="594.0,602.0 597.5,602.0 566.8,650.3 563.3,650.3" fill="#80c0e0"/>
<line x1="133.0" y1="471.0" x2="696.0" y2="650.3" stroke="#741113" stroke-width="1.30"/>
<line x1="563.6" y1="471.0" x2="135.0" y2="650.3" stroke="#741113" stroke-width="1.50"/>
<line x1="531.5" y1="471.0" x2="212.0" y2="650.3" stroke="#741113" stroke-width="1.20"/>
<line x1="240.0" y1="471.0" x2="248.5" y2="650.3" stroke="#741113" stroke-width="1.80"/>
<line x1="240.5" y1="471.0" x2="259.5" y2="650.3" stroke="#741113" stroke-width="0.90"/>
<line x1="240.3" y1="471.0" x2="308.0" y2="650.3" stroke="#741113" stroke-width="1.30"/>
<line x1="240.0" y1="471.0" x2="396.0" y2="650.3" stroke="#741113" stroke-width="3.00"/>
<line x1="335.0" y1="471.0" x2="396.0" y2="650.3" stroke="#741113" stroke-width="1.00"/>
<line x1="380.0" y1="471.0" x2="396.0" y2="650.3" stroke="#741113" stroke-width="1.20"/>
<line x1="389.5" y1="471.0" x2="397.0" y2="650.3" stroke="#741113" stroke-width="1.20"/>
<line x1="521.6" y1="471.0" x2="395.0" y2="650.3" stroke="#741113" stroke-width="3.00"/>
<line x1="527.0" y1="471.0" x2="231.0" y2="650.3" stroke="#741113" stroke-width="1.50"/>
<line x1="516.0" y1="471.0" x2="282.0" y2="650.3" stroke="#741113" stroke-width="1.20"/>
<line x1="393.0" y1="471.0" x2="667.0" y2="650.3" stroke="#741113" stroke-width="1.60"/>
<line x1="380.0" y1="471.0" x2="667.0" y2="650.3" stroke="#741113" stroke-width="1.20"/>
<line x1="334.0" y1="471.0" x2="679.0" y2="650.3" stroke="#741113" stroke-width="1.00"/>
<line x1="262.0" y1="471.0" x2="784.0" y2="650.3" stroke="#741113" stroke-width="1.00"/>
<line x1="341.0" y1="471.0" x2="512.0" y2="650.3" stroke="#741113" stroke-width="3.00"/>
<line x1="573.0" y1="471.0" x2="201.0" y2="650.3" stroke="#741113" stroke-width="1.20"/>
<line x1="580.0" y1="471.0" x2="222.0" y2="650.3" stroke="#741113" stroke-width="1.20"/>
<line x1="600.0" y1="471.0" x2="300.0" y2="650.3" stroke="#741113" stroke-width="1.00"/>
<polygon points="86.2,471.0 172.5,471.0 175.7,650.3 90.4,650.3" fill="#741113"/>
<polygon points="199.3,471.0 228.3,471.0 206.7,650.3 177.6,650.3" fill="#741113"/>
<polygon points="240.0,471.0 431.8,471.0 207.0,650.3 388.5,650.3" fill="#741113"/>
<polygon points="318.6,471.0 320.4,471.0 319.4,561.0 317.6,561.0" fill="#f8f4f2"/>
<polygon points="446.2,471.0 744.5,471.0 895.0,650.3 598.0,650.3" fill="#741113"/>
<text x="396" y="467.6" font-size="12.4" fill="#222"><tspan font-style="italic">B. japomicum</tspan> USDA6T genome</text>
<text x="394" y="661.5" font-size="12.4" fill="#222"><tspan font-style="italic">B. japomicum</tspan> USDA110 genome</text>
<rect x="940.8" y="406.6" width="9.6" height="276.8" fill="url(#gb)"/>
<line x1="950.4" y1="407.2" x2="957.0" y2="407.2" stroke="#111" stroke-width="1.30"/>
<text x="956.0" y="410.2" font-size="18.0" text-anchor="start" fill="#111">100</text>
<line x1="950.4" y1="496.2" x2="957.0" y2="496.2" stroke="#111" stroke-width="1.30"/>
<text x="956.0" y="501.3" font-size="18.0" text-anchor="start" fill="#111">95</text>
<line x1="950.4" y1="586.4" x2="957.0" y2="586.4" stroke="#111" stroke-width="1.30"/>
<text x="956.0" y="590.8" font-size="18.0" text-anchor="start" fill="#111">90</text>
<line x1="950.4" y1="677.0" x2="957.0" y2="677.0" stroke="#111" stroke-width="1.30"/>
<text x="956.0" y="680.2" font-size="18.0" text-anchor="start" fill="#111">85</text>
<text x="927.0" y="391.2" font-size="12.5" text-anchor="start" fill="#333">(identity%)</text>
</svg></body></html>
